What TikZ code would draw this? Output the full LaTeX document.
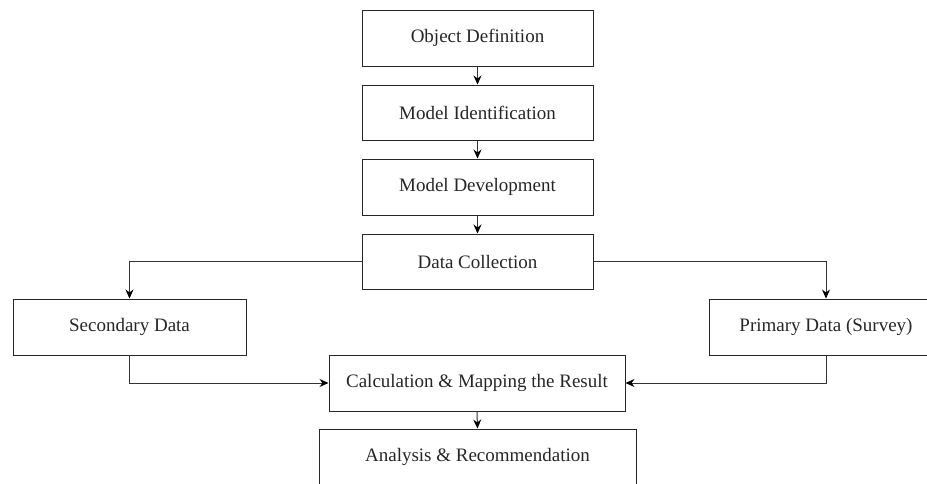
\documentclass[tikz,border=0pt]{standalone}
\usepackage{fontspec}
\setmainfont{Liberation Serif}
\usetikzlibrary{arrows.meta}
\begin{document}
\begin{tikzpicture}[x=1pt,y=-1pt,
  box/.style={draw=black!85,line width=1pt,rectangle,inner sep=0pt,
    minimum height=56pt,text=black!85,font=\fontsize{19}{22}\selectfont},
  conn/.style={draw=black!80,line width=1pt,-{Stealth[length=9pt,width=8pt,black]}}
]
\clip (0,0) rectangle (927,483);
\node[box,minimum width=231pt] (obj) at (477.5,38) {Object Definition};
\node[box,minimum width=231pt,minimum height=55pt] (mid) at (477.5,112.5) {Model Identification};
\node[box,minimum width=231pt] (mdev) at (477.5,187) {Model Development};
\node[box,minimum width=231pt,minimum height=55pt] (dc) at (477.5,261.5) {Data Collection};
\node[box,minimum width=233pt] (sec) at (129.5,327) {Secondary Data};
\node[box,minimum width=234pt] (pri) at (826,327) {Primary Data (Survey)};
\node[box,minimum width=296pt] (calc) at (477,383) {Calculation \& Mapping the Result};
\node[box,minimum width=317pt] (ana) at (477.5,457) {Analysis \& Recommendation};
\draw[conn] (obj) -- (mid);
\draw[conn] (mid) -- (mdev);
\draw[conn] (mdev) -- (dc);
\draw[conn] (dc.west) -| (sec.north);
\draw[conn] (dc.east) -| (pri.north);
\draw[conn] (sec.south) |- (calc.west);
\draw[conn] (pri.south) |- (calc.east);
\draw[conn] (calc.south) -- (ana.north);
\end{tikzpicture}
\end{document}
